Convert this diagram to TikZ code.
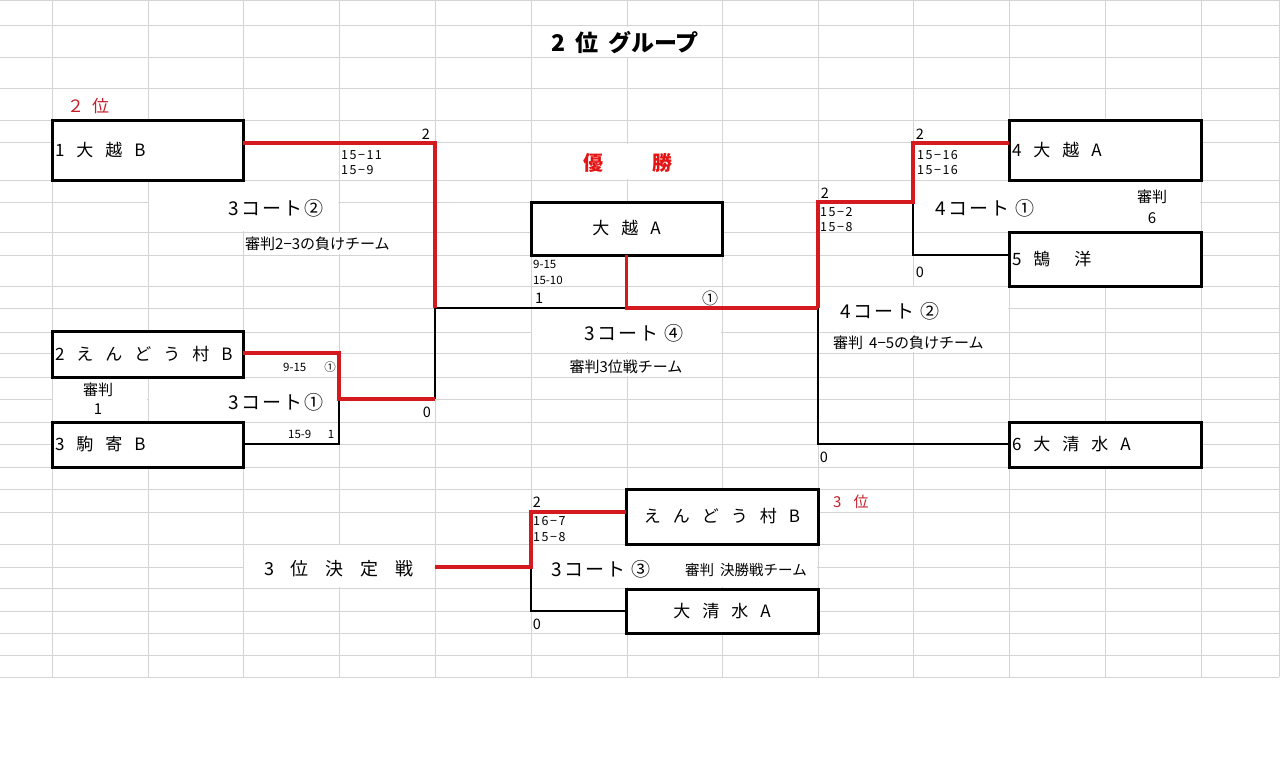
\documentclass[tikz,border=0pt]{standalone}
\usepackage{fontspec}
\setmainfont{Noto Sans CJK JP}
\usetikzlibrary{calc}
\definecolor{gridc}{RGB}{212,212,212}
\definecolor{rline}{RGB}{212,26,30}
\definecolor{rtxt}{RGB}{196,30,42}
\definecolor{rbold}{RGB}{228,20,20}
\newcommand\gp{\hspace{12pt}}
\tikzset{
 gridl/.style={draw=gridc, line width=1pt},
 mask/.style={fill=white, draw=none},
 team/.style={draw=black, line width=3pt, fill=white, anchor=north west, outer sep=0pt,
   inner xsep=3pt, inner ysep=0pt, font=\fontsize{17}{20}\selectfont},
 win/.style={draw=rline, line width=3.2pt},
 lose/.style={draw=black, line width=2.2pt},
 court/.style={font=\fontsize{19}{22}\selectfont\addfontfeatures{LetterSpace=10}, inner sep=0pt},
 refl/.style={font=\fontsize{15}{18}\selectfont, inner sep=0pt},
 score/.style={font=\fontsize{12.5}{14}\selectfont\addfontfeatures{LetterSpace=12}, inner sep=0pt, anchor=west},
 scs/.style={font=\fontsize{11.5}{14}\selectfont, inner sep=0pt},
 num/.style={font=\fontsize{14.5}{17}\selectfont, inner sep=0pt},
}
\begin{document}
\begin{tikzpicture}[x=1pt,y=-1pt]
\useasboundingbox (0,0) rectangle (1280,781);
\fill[white] (0,0) rectangle (1280,781);
% vertical grid
\foreach \x in {52,148,243,339,435,531,627,722,818,913,1009,1105,1201,1279}
  \draw[gridl] (\x,0) -- (\x,677);
% masks hiding vertical lines only
\fill[mask] (200,203) rectangle (338,231);
\fill[mask] (300,233) rectangle (420,254);
\fill[mask] (600,354) rectangle (660,376);
\fill[mask] (890,333) rectangle (940,352);
% horizontal grid
\foreach \y in {1,26,58,89,121,143,180,202,232,255,286,308,332,353,377,399,422,444,467,489,512,544,567,588,611,633,655,677}
  \draw[gridl] (0,\y) -- (1279,\y);
% merged-cell masks
\fill[mask] (532,27) rectangle (721,57);
\fill[mask] (532,144) rectangle (721,179);
\fill[mask] (149,181) rectangle (338,231);
\fill[mask] (914,181) rectangle (1200,231);
\fill[mask] (532,309) rectangle (721,352);
\fill[mask] (819,287) rectangle (1008,331);
\fill[mask] (53,378) rectangle (147,421);
\fill[mask] (149,378) rectangle (338,421);
\fill[mask] (244,545) rectangle (434,587);
\fill[mask] (532,545) rectangle (817,587);

% team boxes
\node[team, minimum height=59pt, text width=185pt, align=left] (b1) at (52,121) {1\gp 大\gp 越\gp B};
\node[team, minimum height=46pt, text width=185pt, align=left] (b2) at (52,331) {2\gp え\gp ん\gp ど\gp う\gp 村\gp B};
\node[team, minimum height=45pt, text width=185pt, align=left] (b3) at (52,422) {3\gp 駒\gp 寄\gp B};
\node[team, minimum height=53pt, text width=185pt, align=center] (w) at (531,202) {大\gp 越\gp A};
\node[team, minimum height=59pt, text width=186pt, align=left] (b4) at (1009,121) {4\gp 大\gp 越\gp A};
\node[team, minimum height=54pt, text width=186pt, align=left] (b5) at (1009,232) {5\gp 鵠\hspace{24pt}洋};
\node[team, minimum height=45pt, text width=186pt, align=left] (b6) at (1009,422) {6\gp 大\gp 清\gp 水\gp A};
\node[team, minimum height=55pt, text width=186pt, align=center] (t1) at (626,489) {え\gp ん\gp ど\gp う\gp 村\gp B};
\node[team, minimum height=44pt, text width=186pt, align=center] (t2) at (626,589) {大\gp 清\gp 水\gp A};

% junctions
\coordinate (qa) at (435,143);
\coordinate (ja) at (435,308);
\coordinate (qb) at (339,353);
\coordinate (jb) at (339,399);
\coordinate (qc) at (339,444);
\coordinate (jb2) at (435,399);
\coordinate (jw) at (626,308);
\coordinate (jr) at (818,308);
\coordinate (qd) at (818,202);
\coordinate (qe) at (913,202);
\coordinate (qf) at (913,143);
\coordinate (qg) at (913,255);
\coordinate (qh) at (818,444);
\coordinate (j3s) at (435,567);
\coordinate (j3) at (531,567);
\coordinate (q3a) at (531,512);
\coordinate (q3b) at (531,611);

% losing paths
\draw[lose] (b3.east |- qc) -- (qc) -- (jb);
\draw[lose] (jb2) -- (ja) -- (jw);
\draw[lose] (b5.west |- qg) -- (qg) -- (qe);
\draw[lose] (b6.west |- qh) -- (qh) -- (jr);
\draw[lose] (t2.west |- q3b) -- (q3b) -- (j3);
% winning paths
\draw[win] (b1.east |- qa) -- (qa) -- (ja);
\draw[win] (b2.east |- qb) -- (qb) -- (jb) -- (jb2);
\draw[win] (w.south) -- (w.south |- jw) -- (jr);
\draw[win] (jr) -- (qd) -- (qe) -- (qf) -- (b4.west |- qf);
\draw[win] (j3s) -- (j3) -- (q3a) -- (t1.west |- q3a);

% titles
\node[font=\fontsize{23}{26}\selectfont\bfseries, inner sep=0pt] (title) at (625,43) {2\hspace{10pt}位\hspace{10pt}グループ};
\node[anchor=west, inner sep=0pt, text=rtxt, font=\fontsize{17}{20}\selectfont] (r2) at (67,106) {２\hspace{8pt}位};
\node[text=rbold, font=\fontsize{20}{24}\selectfont\bfseries, inner sep=0pt] (yu) at (628,163) {優\hspace{49pt}勝};
\node[anchor=west, inner sep=0pt, text=rtxt, font=\fontsize{15}{18}\selectfont] (r3) at (833,502) {3\hspace{12pt}位};

% left upper match
\node[num] (n1) at (426,134) {2};
\node[score] (s1a) at (341,155) {15−11};
\node[score] (s1b) at (341,170) {15−9};
\node[court] (c2) at (276,208) {3コート②};
\node[refl, anchor=west] (r23) at (245,244) {審判2−3の負けチーム};
% left lower match
\node[scs, anchor=west] (s2a) at (283,367) {9-15};
\node[scs] (s2b) at (330,367) {①};
\node[scs, anchor=west] (s3a) at (288,434) {15-9};
\node[scs] (s3b) at (331,434) {1};
\node[refl] (rj1) at (98,390) {審判};
\node[refl] (rj1n) at (98,409) {1};
\node[court] (c1) at (276,402) {3コート①};
\node[num] (n0a) at (427,412) {0};
% final
\node[scs, anchor=west] (fa) at (533,264) {9-15};
\node[scs, anchor=west] (fb) at (533,280) {15-10};
\node[num, anchor=west] (fc) at (535,298) {1};
\node[font=\fontsize{16}{18}\selectfont, inner sep=0pt] (fd) at (710,298) {①};
\node[court] (c4) at (634,333) {3コート\hspace{6pt}④};
\node[refl] (r4) at (626,367) {審判3位戦チーム};
% right upper match
\node[num] (n2) at (920,134) {2};
\node[score] (s4a) at (917,155) {15−16};
\node[score] (s4b) at (917,170) {15−16};
\node[court] (c41) at (985,208) {4コート\hspace{6pt}①};
\node[refl] (rj6) at (1152,197) {審判};
\node[refl] (rj6n) at (1152,218) {6};
\node[num] (n0b) at (920,272) {0};
% right lower match
\node[num] (n3) at (825,193) {2};
\node[score] (s5a) at (820,212) {15−2};
\node[score] (s5b) at (820,227) {15−8};
\node[court] (c42) at (890,311) {4コート\hspace{6pt}②};
\node[refl, anchor=west] (r45) at (833,343) {審判\hspace{6pt}4−5の負けチーム};
\node[num] (n0c) at (824,457) {0};
% third place
\node[font=\fontsize{18}{21}\selectfont, inner sep=0pt] (p3) at (339,569) {3\hspace{17pt}位\hspace{17pt}決\hspace{17pt}定\hspace{17pt}戦};
\node[num] (n4) at (537,502) {2};
\node[score] (s6a) at (533,521) {16−7};
\node[score] (s6b) at (533,537) {15−8};
\node[num] (n0d) at (537,624) {0};
\node[court] (c3) at (601,569) {3コート\hspace{6pt}③};
\node[refl, font=\fontsize{14.5}{17}\selectfont] (rk) at (746,570) {審判\hspace{6pt}決勝戦チーム};
\end{tikzpicture}
\end{document}
